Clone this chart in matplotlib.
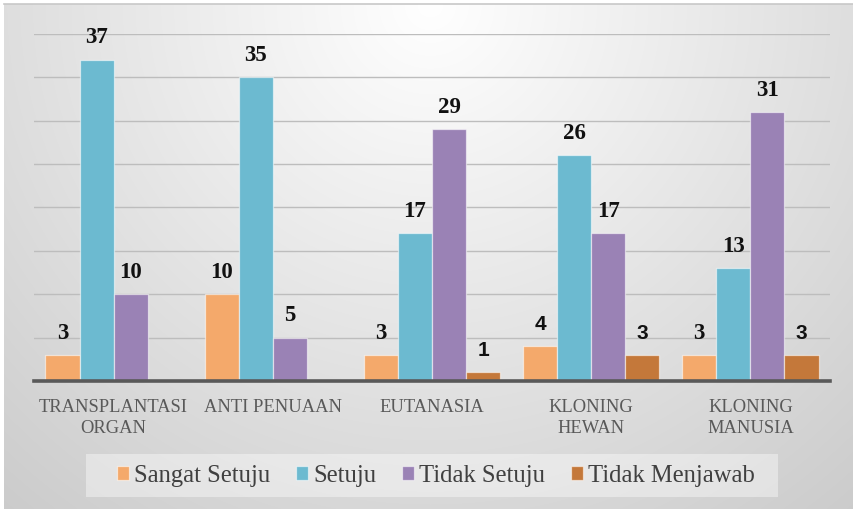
import numpy as np
import matplotlib
matplotlib.use("Agg")
import matplotlib.pyplot as plt
from matplotlib.patches import Rectangle

categories = ["TRANSPLANTASI\nORGAN", "ANTI PENUAAN", "EUTANASIA", "KLONING\nHEWAN", "KLONING\nMANUSIA"]
series_names = ["Sangat Setuju", "Setuju", "Tidak Setuju", "Tidak Menjawab"]
sangat_setuju = [3, 10, 3, 4, 3]
setuju = [37, 35, 17, 26, 13]
tidak_setuju = [10, 5, 29, 17, 31]
tidak_menjawab = [0, 0, 1, 3, 3]

series = [sangat_setuju, setuju, tidak_setuju, tidak_menjawab]
colors = ["#F4A96B", "#6CBAD0", "#9A82B5", "#C4783A"]
# labels that appear in a sans-serif bold face in the original (group, series)
sans_labels = {(2, 3), (3, 0), (3, 3), (4, 3)}

plt.rcParams["font.family"] = ["Liberation Serif", "DejaVu Serif"]

W, H = 854, 510
fig = plt.figure(figsize=(W / 100, H / 100), dpi=100)
fig.patch.set_facecolor("white")

# background radial gradient
bg = fig.add_axes([4 / W, 0, 1 - 4 / W, 1 - 5 / H], zorder=-10)
yy, xx = np.mgrid[0:505, 0:850]
d = np.hypot(xx - 426, yy)
val = np.clip(255 - 0.078 * d, 0, 255) / 255.0
img = np.dstack([val, val, val])
bg.imshow(img, aspect="auto", extent=[0, 1, 0, 1], origin="upper")
bg.set_axis_off()
fig.add_artist(plt.Line2D([4 / W, 1], [1 - 5 / H, 1 - 5 / H], transform=fig.transFigure,
                          color="#c8c8c8", lw=1.2))

ax = fig.add_axes([34 / W, 1 - 382 / H, (830 - 34) / W, (382 - 34.8) / H])
ax.set_facecolor("none")
ax.set_xlim(-0.5, len(categories) - 0.5)
ax.set_ylim(0, 40)

bw = 0.214
n = len(series)
x = np.arange(len(categories))
for i, (vals, c, name) in enumerate(zip(series, colors, series_names)):
    offs = (i - (n - 1) / 2) * bw
    bars = ax.bar(x + offs, vals, width=bw, color=c, edgecolor=(1, 1, 1, 0.55), linewidth=0.9,
                  label=name, zorder=3)
    for j, (b, v) in enumerate(zip(bars, vals)):
        if v == 0:
            continue
        fam = ["Liberation Sans", "DejaVu Sans"] if (j, i) in sans_labels else ["Liberation Serif", "DejaVu Serif"]
        fs = 15 if (j, i) in sans_labels else 16.5
        ax.annotate(str(v), (b.get_x() + b.get_width() / 2, v), xytext=(0, 12.5),
                    textcoords="offset points", ha="center", va="baseline",
                    fontsize=fs, fontweight="bold", family=fam, color="#111111", zorder=5)

ax.set_yticks(np.arange(5, 41, 5))
ax.yaxis.grid(True, color="#bdbdbd", lw=1.0, zorder=0)
ax.set_axisbelow(True)
ax.tick_params(axis="y", left=False, labelleft=False)
ax.set_xticks(x)
ax.set_xticklabels(categories, fontsize=13.3, color="#595959", linespacing=1.3)
ax.tick_params(axis="x", length=0, pad=12)
for s in ["left", "right", "top"]:
    ax.spines[s].set_visible(False)
ax.spines["bottom"].set_color("#595959")
ax.spines["bottom"].set_linewidth(2.6)
ax.spines["bottom"].set_zorder(4)

# legend box
fig.add_artist(Rectangle((86 / W, 1 - 498 / H), 692 / W, 43 / H, transform=fig.transFigure,
                         facecolor=(1, 1, 1, 0.4), edgecolor="none", zorder=1))
leg = fig.legend(loc="center", bbox_to_anchor=(436 / W, 1 - 476.5 / H), ncol=4,
                 prop={"size": 17.7}, frameon=False,
                 handlelength=0.5, handleheight=0.5, handletextpad=0.2,
                 columnspacing=1.05, borderpad=0.3)
for t in leg.get_texts():
    t.set_color("#404040")

fig.savefig("out.png", dpi=100)
